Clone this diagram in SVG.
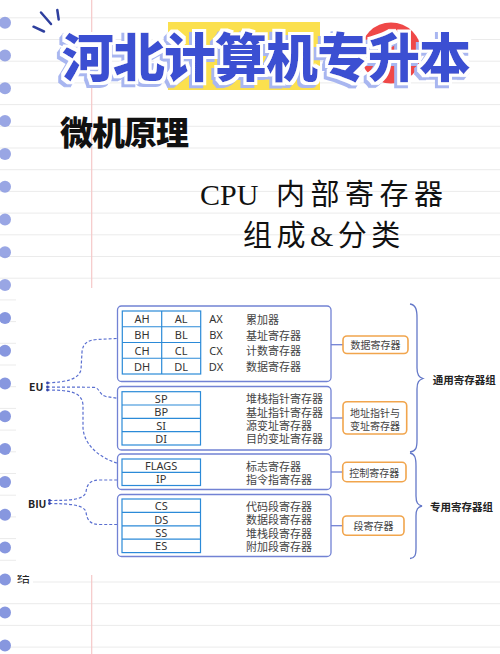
<svg xmlns="http://www.w3.org/2000/svg" width="500" height="654" viewBox="0 0 500 654">
<defs>
<filter id="ttlfx" x="-10%" y="-30%" width="120%" height="160%">
<feMorphology in="SourceAlpha" operator="dilate" radius="2.5" result="dil"/>
<feOffset in="dil" dx="-3" dy="3" result="off"/>
<feFlood flood-color="#a8b6f0"/>
<feComposite in2="off" operator="in" result="shadow"/>
<feFlood flood-color="#ffffff"/>
<feComposite in2="dil" operator="in" result="outline"/>
<feMerge><feMergeNode in="shadow"/><feMergeNode in="outline"/><feMergeNode in="SourceGraphic"/></feMerge>
</filter>
<style>
.hl{stroke:#ebebeb;stroke-width:1}
.dot{fill:#8797df}
.cjk{font-family:"Noto Sans CJK SC","Noto Sans",sans-serif}
.box{fill:#fff;stroke:#7282d4;stroke-width:1.3}
.tbl{fill:none;stroke:#2b8ad8;stroke-width:1.2}
.reg{font-family:"Noto Sans","Noto Sans CJK SC",sans-serif;font-size:11px;fill:#333;text-anchor:middle;dominant-baseline:central}
.lbl{font-family:"Noto Sans CJK SC",sans-serif;font-size:11px;fill:#444;dominant-baseline:central}
.ob{fill:#fff;stroke:#f1a54d;stroke-width:1.6}
.ot{font-family:"Noto Sans CJK SC",sans-serif;font-size:10px;fill:#444;text-anchor:middle;dominant-baseline:central}
.grp{font-family:"Noto Sans CJK SC",sans-serif;font-size:10.5px;font-weight:700;fill:#222;dominant-baseline:central}
.dash{fill:none;stroke:#5a6fd0;stroke-width:1.2;stroke-dasharray:3 2}
.conn{stroke:#7282d4;stroke-width:1.3;fill:none}
.brace{fill:none;stroke:#6478c8;stroke-width:1.3}
.ttl{font-family:"Noto Sans CJK SC",sans-serif;font-size:52px;font-weight:900;letter-spacing:-1px}
</style>
</defs>
<g id="background">
<rect x="0" y="0" width="500" height="654" fill="#fff"/>
<line class="hl" x1="0" y1="17.8" x2="500" y2="17.8"/>
<line class="hl" x1="0" y1="39.5" x2="500" y2="39.5"/>
<line class="hl" x1="0" y1="61.2" x2="500" y2="61.2"/>
<line class="hl" x1="0" y1="82.9" x2="500" y2="82.9"/>
<line class="hl" x1="0" y1="104.6" x2="500" y2="104.6"/>
<line class="hl" x1="0" y1="126.3" x2="500" y2="126.3"/>
<line class="hl" x1="0" y1="148" x2="500" y2="148"/>
<line class="hl" x1="0" y1="169.7" x2="500" y2="169.7"/>
<line class="hl" x1="0" y1="191.4" x2="500" y2="191.4"/>
<line class="hl" x1="0" y1="213.1" x2="500" y2="213.1"/>
<line class="hl" x1="0" y1="234.8" x2="500" y2="234.8"/>
<line class="hl" x1="0" y1="256.5" x2="500" y2="256.5"/>
<line class="hl" x1="0" y1="278.2" x2="500" y2="278.2"/>
<line class="hl" x1="0" y1="299.9" x2="500" y2="299.9"/>
<line class="hl" x1="0" y1="321.6" x2="500" y2="321.6"/>
<line class="hl" x1="0" y1="343.3" x2="500" y2="343.3"/>
<line class="hl" x1="0" y1="365" x2="500" y2="365"/>
<line class="hl" x1="0" y1="386.7" x2="500" y2="386.7"/>
<line class="hl" x1="0" y1="408.4" x2="500" y2="408.4"/>
<line class="hl" x1="0" y1="430.1" x2="500" y2="430.1"/>
<line class="hl" x1="0" y1="451.8" x2="500" y2="451.8"/>
<line class="hl" x1="0" y1="473.5" x2="500" y2="473.5"/>
<line class="hl" x1="0" y1="495.2" x2="500" y2="495.2"/>
<line class="hl" x1="0" y1="516.9" x2="500" y2="516.9"/>
<line class="hl" x1="0" y1="538.6" x2="500" y2="538.6"/>
<line class="hl" x1="0" y1="560.3" x2="500" y2="560.3"/>
<line class="hl" x1="33" y1="582" x2="500" y2="582"/>
<line class="hl" x1="0" y1="603.7" x2="500" y2="603.7"/>
<line class="hl" x1="0" y1="625.4" x2="500" y2="625.4"/>
<line class="hl" x1="0" y1="647.1" x2="500" y2="647.1"/>
<line x1="91.7" y1="0" x2="91.7" y2="654" stroke="#f5c8c8" stroke-width="1.2"/>
<circle class="dot" cx="5" cy="22.7" r="6" fill-opacity="0.85"/>
<circle class="dot" cx="5" cy="55.5" r="6" fill-opacity="0.85"/>
<circle class="dot" cx="5" cy="88.3" r="6" fill-opacity="0.85"/>
<circle class="dot" cx="5" cy="121.1" r="6" fill-opacity="0.85"/>
<circle class="dot" cx="5" cy="153.9" r="6" fill-opacity="0.85"/>
<circle class="dot" cx="5" cy="186.7" r="6" fill-opacity="0.85"/>
<circle class="dot" cx="5" cy="219.5" r="6" fill-opacity="0.85"/>
<circle class="dot" cx="5" cy="252.3" r="6" fill-opacity="0.85"/>
<circle class="dot" cx="5" cy="285.1" r="6" fill-opacity="0.85"/>
<circle class="dot" cx="5" cy="317.9" r="6"/>
<circle class="dot" cx="5" cy="350.7" r="6"/>
<circle class="dot" cx="5" cy="383.5" r="6"/>
<circle class="dot" cx="5" cy="416.3" r="6"/>
<circle class="dot" cx="5" cy="449.1" r="6"/>
<circle class="dot" cx="5" cy="481.9" r="6"/>
<circle class="dot" cx="5" cy="514.7" r="6"/>
<circle class="dot" cx="5" cy="547.5" r="6"/>
<circle class="dot" cx="5" cy="579.5" r="6"/>
<circle class="dot" cx="5" cy="612.5" r="6"/>
<circle class="dot" cx="5" cy="645.5" r="6"/>
<text x="17" y="582" class="cjk" font-size="13" fill="#222">结</text>
</g>
<g id="title">
<rect x="168" y="22" width="152" height="68" fill="#fbe04e"/>
<circle cx="391" cy="53" r="30.5" fill="#ef4848"/>
<g stroke="#2e3f9e" stroke-width="2.5" stroke-linecap="round">
<line x1="41" y1="12.5" x2="51" y2="24"/>
<line x1="57.3" y1="10" x2="58.7" y2="19.5"/>
<line x1="33.5" y1="26.7" x2="44" y2="31.5"/>
</g>
<text x="62" y="77" class="ttl" fill="#3a50d2" filter="url(#ttlfx)">河北计算机专升本</text>
</g>
<g id="subtitle">
<text x="60" y="145" class="cjk" font-size="33" font-weight="900" fill="#111" letter-spacing="-1">微机原理</text>
<text y="205" font-family="'Liberation Serif','Noto Sans CJK SC',serif" font-size="30" fill="#111"><tspan x="200">CPU</tspan><tspan x="276" letter-spacing="5.5" font-family="'Noto Sans CJK SC',sans-serif" font-size="29">内部寄存器</tspan></text>
<text x="243" y="246" font-family="'Noto Sans CJK SC',sans-serif" font-size="29" fill="#111" letter-spacing="4.5">组成<tspan font-family="'Liberation Serif',serif" font-size="30">&amp;</tspan>分类</text>
</g>
<rect id="panel" x="16" y="288" width="484" height="287" fill="#fff"/>
<g id="connectors">
<path class="dash" d="M47,383 C65,382 78,380 81,370 L82,352 C83,343 88,340 97,339.5 L117,338.5"/>
<path class="dash" d="M47,387 L94,387.3 C100,388 99,395 106,396.5 L117,398.3"/>
<path class="dash" d="M47,390 C70,390 82,392 83,405 L83,428 C84,445 100,458 117,463"/>
<path class="dash" d="M49,500.5 C70,500.5 84,500 86,492 C87,484 90,480 100,480 L117,480"/>
<path class="dash" d="M49,503.5 C70,503.5 84,505 86,512 C87,520 90,524.5 100,524.5 L117,524.5"/>
<g fill="#3344aa">
<circle cx="47.5" cy="383" r="1.4"/><circle cx="47.5" cy="387" r="1.4"/><circle cx="47.5" cy="390" r="1.4"/>
<circle cx="49.5" cy="500.5" r="1.4"/><circle cx="49.5" cy="503.5" r="1.4"/>
</g>
<line class="conn" x1="331" y1="344.7" x2="343" y2="344.7"/>
<line class="conn" x1="331" y1="418" x2="343" y2="418"/>
<line class="conn" x1="331" y1="472" x2="342.7" y2="472"/>
<line class="conn" x1="331" y1="525.7" x2="342.7" y2="525.7"/>
</g>
<g id="eu"><text x="29" y="386" class="grp" font-size="11">EU</text></g>
<g id="biu"><text x="28" y="503" class="grp" font-size="11">BIU</text></g>
<g id="data-regs">
<rect class="box" x="117.5" y="306" width="213.5" height="75.5" rx="4"/>
<rect class="tbl" x="122.3" y="311" width="78.4" height="63"/>
<line class="tbl" x1="161.7" y1="311" x2="161.7" y2="374"/>
<line class="tbl" x1="122.3" y1="326.75" x2="200.7" y2="326.75"/>
<line class="tbl" x1="122.3" y1="342.5" x2="200.7" y2="342.5"/>
<line class="tbl" x1="122.3" y1="358.25" x2="200.7" y2="358.25"/>
<text class="reg" x="142" y="318.9" font-size="12">AH</text><text class="reg" x="181.2" y="318.9" font-size="12">AL</text><text class="reg" x="216" y="318.9" font-size="12">AX</text>
<text class="reg" x="142" y="334.6" font-size="12">BH</text><text class="reg" x="181.2" y="334.6" font-size="12">BL</text><text class="reg" x="216" y="334.6" font-size="12">BX</text>
<text class="reg" x="142" y="350.4" font-size="12">CH</text><text class="reg" x="181.2" y="350.4" font-size="12">CL</text><text class="reg" x="216" y="350.4" font-size="12">CX</text>
<text class="reg" x="142" y="366.1" font-size="12">DH</text><text class="reg" x="181.2" y="366.1" font-size="12">DL</text><text class="reg" x="216" y="366.1" font-size="12">DX</text>
<text class="lbl" x="246" y="318.9" font-size="11.5">累加器</text>
<text class="lbl" x="246" y="334.6" font-size="11.5">基址寄存器</text>
<text class="lbl" x="246" y="350.4" font-size="11.5">计数寄存器</text>
<text class="lbl" x="246" y="366.1" font-size="11.5">数据寄存器</text>
</g>
<g id="pointer-regs">
<rect class="box" x="117.5" y="386.5" width="213.5" height="63.5" rx="4"/>
<rect class="tbl" x="122" y="391.7" width="78.5" height="53.3"/>
<line class="tbl" x1="122" y1="405" x2="200.5" y2="405"/>
<line class="tbl" x1="122" y1="418.3" x2="200.5" y2="418.3"/>
<line class="tbl" x1="122" y1="431.7" x2="200.5" y2="431.7"/>
<text class="reg" x="161.2" y="398.3">SP</text>
<text class="reg" x="161.2" y="411.7">BP</text>
<text class="reg" x="161.2" y="425">SI</text>
<text class="reg" x="161.2" y="438.3">DI</text>
<text class="lbl" x="246" y="398.3">堆栈指针寄存器</text>
<text class="lbl" x="246" y="411.7">基址指针寄存器</text>
<text class="lbl" x="246" y="425">源变址寄存器</text>
<text class="lbl" x="246" y="438.3">目的变址寄存器</text>
</g>
<g id="control-regs">
<rect class="box" x="117.5" y="454" width="213.5" height="35.5" rx="4"/>
<rect class="tbl" x="122" y="459" width="78.5" height="26.5"/>
<line class="tbl" x1="122" y1="472.3" x2="200.5" y2="472.3"/>
<text class="reg" x="161.2" y="465.7">FLAGS</text>
<text class="reg" x="161.2" y="478.9">IP</text>
<text class="lbl" x="246" y="465.7">标志寄存器</text>
<text class="lbl" x="246" y="478.9">指令指寄存器</text>
</g>
<g id="segment-regs">
<rect class="box" x="117.5" y="494.5" width="213.5" height="62" rx="4"/>
<rect class="tbl" x="122" y="499" width="78.5" height="53.6"/>
<line class="tbl" x1="122" y1="512.4" x2="200.5" y2="512.4"/>
<line class="tbl" x1="122" y1="525.8" x2="200.5" y2="525.8"/>
<line class="tbl" x1="122" y1="539.2" x2="200.5" y2="539.2"/>
<text class="reg" x="161.2" y="505.7">CS</text>
<text class="reg" x="161.2" y="519.1">DS</text>
<text class="reg" x="161.2" y="532.5">SS</text>
<text class="reg" x="161.2" y="545.9">ES</text>
<text class="lbl" x="246" y="505.7">代码段寄存器</text>
<text class="lbl" x="246" y="519.1">数据段寄存器</text>
<text class="lbl" x="246" y="532.5">堆栈段寄存器</text>
<text class="lbl" x="246" y="545.9">附加段寄存器</text>
</g>
<g id="data-reg-label">
<rect class="ob" x="343" y="336" width="65" height="17.5" rx="4"/>
<text class="ot" x="375.5" y="344.7">数据寄存器</text>
</g>
<g id="pointer-reg-label">
<rect class="ob" x="343" y="401.7" width="63.7" height="32.3" rx="4"/>
<text class="ot" x="375" y="412">地址指针与</text>
<text class="ot" x="375" y="425.7">变址寄存器</text>
</g>
<g id="control-reg-label">
<rect class="ob" x="342.7" y="462.3" width="63.3" height="19.4" rx="4"/>
<text class="ot" x="374.3" y="472">控制寄存器</text>
</g>
<g id="segment-reg-label">
<rect class="ob" x="342.7" y="516" width="61.3" height="19.3" rx="4"/>
<text class="ot" x="373.4" y="525.7">段寄存器</text>
</g>
<g id="general-group">
<path class="brace" d="M410,304 C416,305 417,310 417,318 L417,368 C417,375 419,377 423,378.5 C419,380 417,382 417,389 L417,440 C417,448 416,451 410,452"/>
<text class="grp" x="432.7" y="379">通用寄存器组</text>
</g>
<g id="special-group">
<path class="brace" d="M410,453 C415,454 416,458 416,466 L416,496 C416,503 418,505 422,506 C418,507 416,509 416,516 L416,548 C416,555 415,558 410,558.5"/>
<text class="grp" x="430" y="506">专用寄存器组</text>
</g>
</svg>
